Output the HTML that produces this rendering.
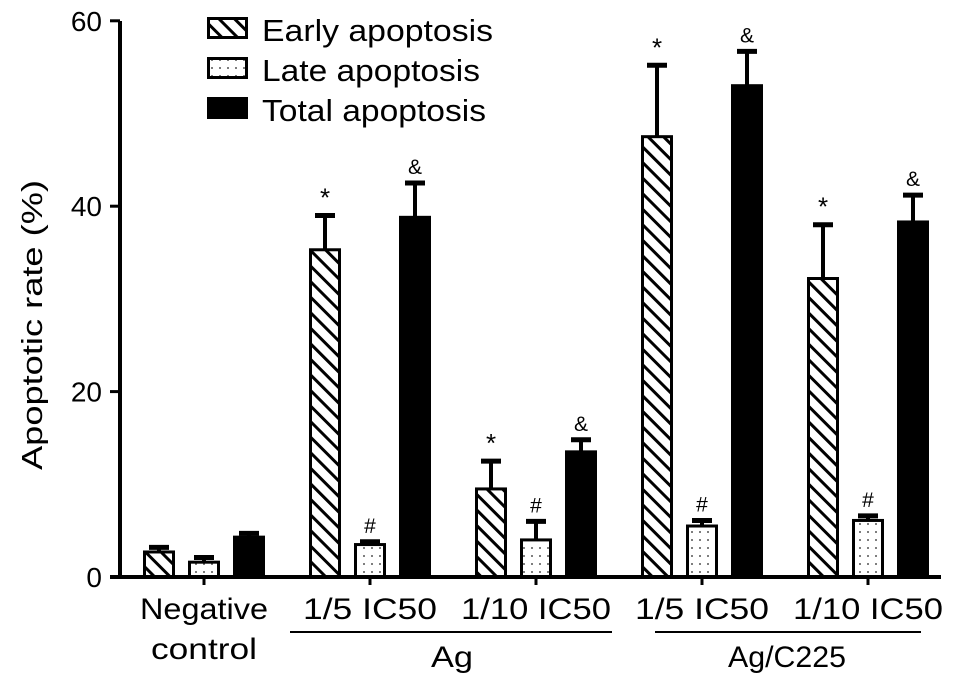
<!DOCTYPE html>
<html><head><meta charset="utf-8"><style>
body{margin:0;background:#fff}
svg{display:block;font-family:"Liberation Sans",Arial,sans-serif}
</style></head><body>
<svg id="chart" width="969" height="688" viewBox="0 0 969 688">
<defs>
<pattern id="hatch" patternUnits="userSpaceOnUse" width="11" height="11" patternTransform="rotate(45)">
<rect width="11" height="11" fill="#fff"/><rect x="0" y="0" width="11" height="3" fill="#000"/>
</pattern>
<pattern id="dots" patternUnits="userSpaceOnUse" width="8" height="8">
<rect width="8" height="8" fill="#fff"/><circle cx="4" cy="4" r="1" fill="#555"/>
</pattern>
</defs>
<g id="bars"></g>
<g id="axes"></g>
<g font-family="Liberation Sans, Arial, sans-serif" font-size="30" text-anchor="middle" fill="#000" lengthAdjust="spacingAndGlyphs">
<text x="204" y="619" textLength="128" lengthAdjust="spacingAndGlyphs">Negative</text>
<text x="204" y="659" textLength="106" lengthAdjust="spacingAndGlyphs">control</text>
<text x="370" y="619" textLength="134" lengthAdjust="spacingAndGlyphs">1/5 IC50</text>
<text x="536" y="619" textLength="150" lengthAdjust="spacingAndGlyphs">1/10 IC50</text>
<text x="702" y="619" textLength="134" lengthAdjust="spacingAndGlyphs">1/5 IC50</text>
<text x="868" y="619" textLength="150" lengthAdjust="spacingAndGlyphs">1/10 IC50</text>
<line x1="290" x2="612" y1="632" y2="632" stroke="#000" stroke-width="2"/>
<line x1="655" x2="921" y1="632" y2="632" stroke="#000" stroke-width="2"/>
<text x="452" y="667" textLength="42" lengthAdjust="spacingAndGlyphs">Ag</text>
<text x="787" y="667" textLength="118" lengthAdjust="spacingAndGlyphs">Ag/C225</text>
<text transform="translate(42,325) rotate(-90)" textLength="290" lengthAdjust="spacingAndGlyphs" font-size="29">Apoptotic  rate (%)</text>
</g>
<g font-family="Liberation Sans, Arial, sans-serif" font-size="31">
<rect x="208.5" y="18.5" width="38" height="19" fill="url(#hatch)" stroke="#000" stroke-width="3"/>
<text x="262" y="41" textLength="231" lengthAdjust="spacingAndGlyphs">Early apoptosis</text>
<rect x="208.5" y="58.5" width="38" height="19" fill="url(#dots)" stroke="#000" stroke-width="3"/>
<text x="262" y="81" textLength="218" lengthAdjust="spacingAndGlyphs">Late apoptosis</text>
<rect x="207" y="97" width="41" height="22" fill="#000"/>
<text x="262" y="121" textLength="224" lengthAdjust="spacingAndGlyphs">Total apoptosis</text>
</g>
</svg>
<script>
const groups = ["Negative control","Ag 1/5 IC50","Ag 1/10 IC50","Ag/C225 1/5 IC50","Ag/C225 1/10 IC50"];
const early = [2.7, 35.3, 9.5, 47.5, 32.2];
const earlyErr = [0.5, 3.7, 3.0, 7.7, 5.8];
const late = [1.6, 3.5, 4.0, 5.5, 6.1];
const lateErr = [0.5, 0.3, 2.0, 0.6, 0.5];
const total = [4.3, 38.8, 13.5, 53.0, 38.3];
const totalErr = [0.4, 3.7, 1.3, 3.7, 2.9];
const earlyMarks = ["", "*", "*", "*", "*"];
const lateMarks = ["", "#", "#", "#", "#"];
const totalMarks = ["", "&", "&", "&", "&"];
const yTicks = [0, 20, 40, 60];

const NS = "http://www.w3.org/2000/svg";
const y = v => 577 - v * 9.27;
const gx = i => 204 + i * 166;
const BW = 32;
const bars = document.getElementById('bars');
const axes = document.getElementById('axes');
function mk(tag, attrs, parent, text) {
  const e = document.createElementNS(NS, tag);
  for (const k in attrs) e.setAttribute(k, attrs[k]);
  if (text !== undefined) e.textContent = text;
  parent.appendChild(e);
  return e;
}
const series = [
  {vals: early, err: earlyErr, marks: earlyMarks, fill: "url(#hatch)", off: -45, name: "early"},
  {vals: late, err: lateErr, marks: lateMarks, fill: "url(#dots)", off: 0, name: "late"},
  {vals: total, err: totalErr, marks: totalMarks, fill: "#000", off: 45, name: "total"}
];
series.forEach(s => {
  s.vals.forEach((v, i) => {
    const cx = gx(i) + s.off;
    const top = y(v), et = y(v + s.err[i]);
    const ln = mk('line', {x1: cx, x2: cx, y1: top, y2: et, stroke: '#000', 'stroke-width': 4}, bars);
    
    
    const cap = mk('line', {x1: cx - 10, x2: cx + 10, y1: et, y2: et, stroke: '#000', 'stroke-width': 5}, bars);
    
    
    const r = mk('rect', {x: cx - BW / 2 + 1.5, y: top, width: BW - 3, height: 577 - top, fill: s.fill, stroke: '#000', 'stroke-width': 3}, bars);
    
    
    if (s.marks[i]) {
      const t = mk('text', {x: cx, y: et - 9, 'text-anchor': 'middle', 'font-size': s.marks[i] === '*' ? 26 : 21}, bars, s.marks[i]);
      
      
    }
  });
});
let a = mk('line', {x1: 120, x2: 120, y1: 21, y2: 579, stroke: '#000', 'stroke-width': 4}, axes);
 
a = mk('line', {x1: 110, x2: 941, y1: 577, y2: 577, stroke: '#000', 'stroke-width': 4}, axes);
 
yTicks.forEach(v => {
  const tk = mk('line', {x1: 110, x2: 120, y1: y(v), y2: y(v), stroke: '#000', 'stroke-width': 3}, axes);
   
  const t = mk('text', {x: 102, y: y(v) + 10, 'text-anchor': 'end', 'font-size': 28}, axes, v);
   
});
groups.forEach((g, i) => {
  const tk = mk('line', {x1: gx(i), x2: gx(i), y1: 577, y2: 585, stroke: '#000', 'stroke-width': 3}, axes);
   
});
</script>
</body></html>
